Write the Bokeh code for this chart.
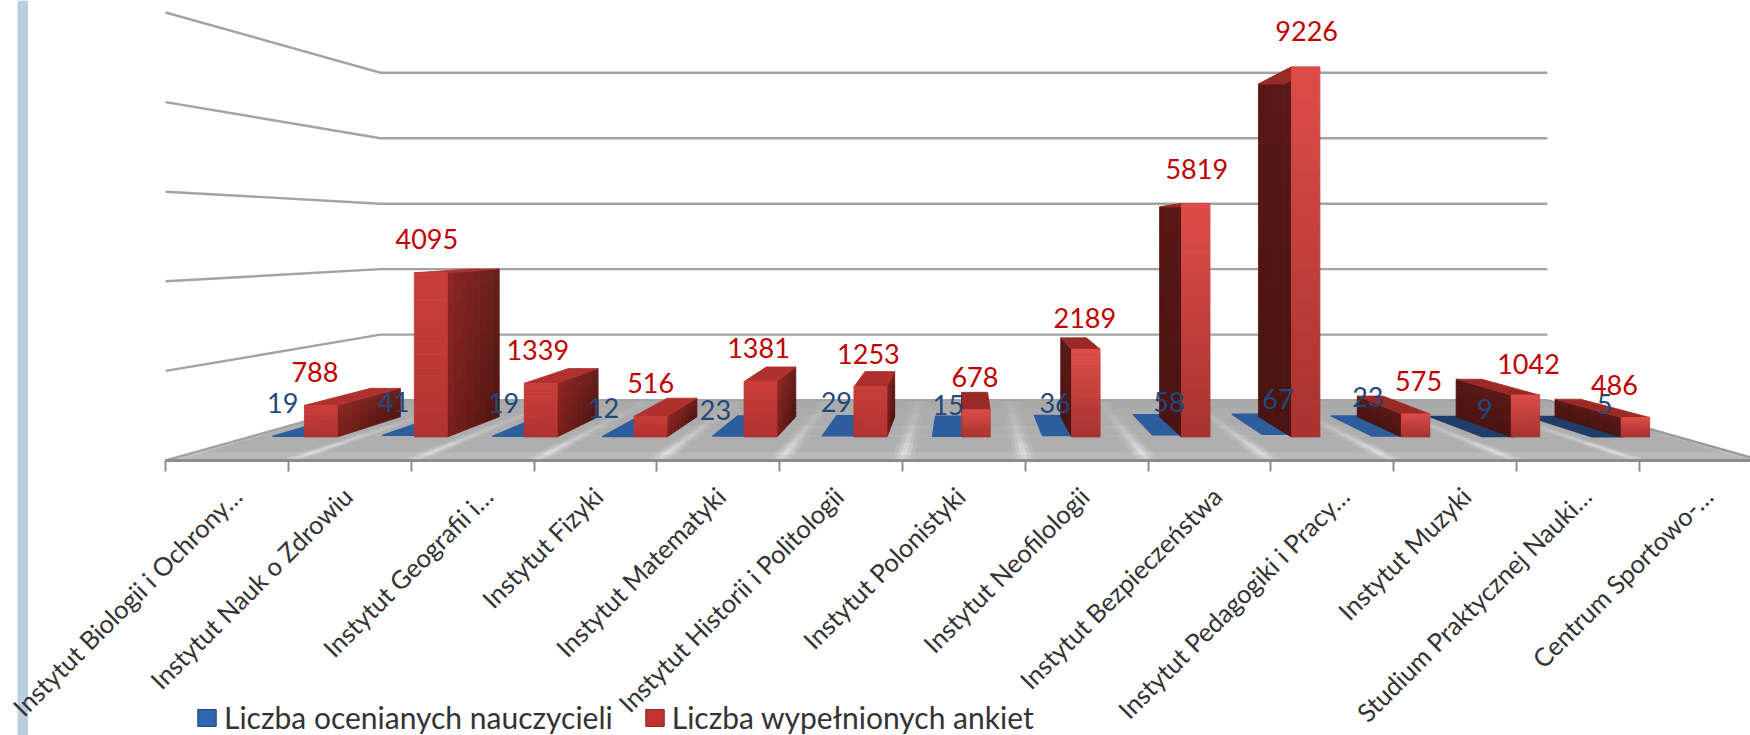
from math import pi
from bokeh.core.properties import value
from bokeh.embed import file_html
from bokeh.resources import INLINE
from bokeh.plotting import figure
from bokeh.models import (BoxAnnotation, FixedTicker, Legend, LegendItem,
                          LinearAxis, Range1d)

# ---- data ----
categories = ["Instytut Biologii i Ochrony…", "Instytut Nauk o Zdrowiu", "Instytut Geografii i…",
              "Instytut Fizyki", "Instytut Matematyki", "Instytut Historii i Politologii",
              "Instytut Polonistyki", "Instytut Neofilologii", "Instytut Bezpieczeństwa",
              "Instytut Pedagogiki i Pracy…", "Instytut Muzyki", "Studium Praktycznej Nauki…",
              "Centrum Sportowo-…"]
teachers = [19, 41, 19, 12, 23, 29, 15, 36, 58, 67, 23, 9, 5]
surveys = [788, 4095, 1339, 516, 1381, 1253, 678, 2189, 5819, 9226, 575, 1042, 486]
grid_values = [2000, 4000, 6000, 8000, 10000]
series_names = ["Liczba ocenianych nauczycieli", "Liczba wypełnionych ankiet"]

# ---- camera and layout (style, not data) ----
N = len(categories)
VP_U, VP_V = N / 2, 5007.0
S_WALL, S_FRONT, S_BACK = 0.731, 0.895, 0.805
BAR_W = 0.285
BAR_W_LEFT, BAR_W_RIGHT, RIGHT_SHIFT = 0.30, 0.26, -0.02

# label nudges in screen pixels
red_dx = [-6, -4, -3, 0, -2, -2, -1, -1, 1, 1, 3, 3, -21]
red_dy = [0, -1, 0, 0, -1, 0, 0, 2, -2, -3, 0, 2, 1]
blue_dx = [-6, -5, -5, -15, -13, -2, 0, -3, 1, 0, -20, -13, -3]
blue_dy = [0, 0, 0, 5, 7, -1, 2, 0, 0, -2, -6, 5, 0]
blue_tone = ["#2c5e9e"] * 11 + ["#1e3d68", "#1e3d68"]
label_shift = [.08, -.02, .125, .02, .02, -.02, -.03, -.02, .06, .10, .09, .07, .06]


def proj(u, v, s):
    return VP_U + (u - VP_U) * s, VP_V + (v - VP_V) * s


def rgb(h):
    return [int(h[i:i + 2], 16) for i in (1, 3, 5)]


def mix(a, b, t):
    return "#%02x%02x%02x" % tuple(round(x + (y - x) * t) for x, y in zip(rgb(a), rgb(b)))


class Faces:
    def __init__(self):
        self.xs, self.ys, self.c = [], [], []

    def grid(self, a, b, c, d, ca, cb, cc, cd, nx=1, ny=1):
        """a,b = first edge; c,d = opposite edge, colours at the corners"""
        def pt(t, w):
            top = (a[0] + (b[0] - a[0]) * t, a[1] + (b[1] - a[1]) * t)
            bot = (c[0] + (d[0] - c[0]) * t, c[1] + (d[1] - c[1]) * t)
            return top[0] + (bot[0] - top[0]) * w, top[1] + (bot[1] - top[1]) * w
        for i in range(nx):
            for j in range(ny):
                t0, t1, w0, w1 = i / nx, (i + 1) / nx, j / ny, (j + 1) / ny
                q = [pt(t0, w0), pt(t1, w0), pt(t1, w1), pt(t0, w1)]
                self.xs.append([p[0] for p in q])
                self.ys.append([p[1] for p in q])
                tm, wm = (t0 + t1) / 2, (w0 + w1) / 2
                self.c.append(mix(mix(ca, cb, tm), mix(cc, cd, tm), wm))


p = figure(width=1750, height=735, output_backend="svg", toolbar_location=None,
           x_range=Range1d(-1.345, 12.906), y_range=Range1d(-6138, 10268),
           x_axis_type=None, y_axis_type=None, min_border_left=0, min_border_right=0,
           min_border_top=0, min_border_bottom=0, outline_line_color=None,
           background_fill_color="white", border_fill_color="white")
p.grid.visible = False

# left slide stripe
p.add_layout(BoxAnnotation(left=17, right=27.5, top=0, bottom=735, left_units="screen",
                           right_units="screen", top_units="screen", bottom_units="screen",
                           fill_color="#bccfe0", fill_alpha=1, line_color=None, level="underlay"))

# floor
floor = Faces()
floor.grid(proj(0, 0, S_WALL), proj(N, 0, S_WALL), proj(0, 0, 0.965), proj(N, 0, 0.965),
           "#aaaaaa", "#aaaaaa", "#b0b0b0", "#b0b0b0", 1, 6)
floor.grid(proj(0, 0, 0.965), proj(N, 0, 0.965), proj(0, 0, 1), proj(N, 0, 1),
           "#bcbcbc", "#bcbcbc", "#b6b6b6", "#b6b6b6")
p.patches(floor.xs, floor.ys, fill_color=floor.c, line_color=floor.c, line_width=0.6)

# floor light streaks, running from each tick towards the vanishing point
sx, sy, sa = [], [], []
steps = [(1.0, 0.975), (0.975, 0.95), (0.95, 0.92), (0.92, 0.88), (0.88, 0.84), (0.84, 0.79), (0.79, 0.735)]
alphas = [0.22, 0.34, 0.30, 0.20, 0.14, 0.09, 0.05]
for i in range(0, N + 1):
    for k, (s0, s1) in enumerate(steps):
        for half, fade in ((.09, .45), (.055, .7), (.025, 1.0)):
            q = [proj(i - half, 0, s0), proj(i + half, 0, s0), proj(i + half, 0, s1), proj(i - half, 0, s1)]
            sx.append([a[0] for a in q])
            sy.append([a[1] for a in q])
            sa.append(alphas[k] * fade)
p.patches(sx, sy, fill_color="#f6f6f6", fill_alpha=sa, line_color=None)

# floor edges and grid lines
edge_x, edge_y = [], []
for v in [0] + grid_values:
    a, b, c = proj(0, v, 1), proj(0, v, S_WALL), proj(N, v, S_WALL)
    edge_x.append([a[0], b[0], c[0]])
    edge_y.append([a[1], b[1], c[1]])
p.multi_line(edge_x, edge_y, line_color="#a3a3a3", line_width=2.4, line_join="miter")
b0, b1 = proj(N, 0, 1), proj(N, 0, S_WALL)
p.line([b0[0], b1[0]], [b0[1], b1[1]], line_color="#9a9a9a", line_width=2.4)

# bars
bars = Faces()
blue_x, blue_y, blue_c = [], [], []
red_lab_x, red_lab_y, blue_lab_x, blue_lab_y = [], [], [], []
for i in range(N):
    c = i + 0.5
    # blue: a very low slab, mostly its top face
    u0, u1, v = c - BAR_W, c, teachers[i]
    q = [proj(u0, v, S_FRONT), proj(u1, v, S_FRONT), proj(u1, v, S_BACK), proj(u0, v, S_BACK)]
    blue_x.append([a[0] for a in q])
    blue_y.append([a[1] for a in q])
    blue_c.append(blue_tone[i])
    lx, ly = proj(u0 + BAR_W / 2, v, S_FRONT)
    blue_lab_x.append(lx)
    blue_lab_y.append(ly)

for i in range(N):
    c = i + 0.5
    left_of_camera = c + BAR_W < VP_U
    u0 = c if left_of_camera else c + RIGHT_SHIFT
    u1 = u0 + (BAR_W_LEFT if left_of_camera else BAR_W_RIGHT)
    v = surveys[i]
    f_tl, f_tr = proj(u0, v, S_FRONT), proj(u1, v, S_FRONT)
    f_bl, f_br = proj(u0, 0, S_FRONT), proj(u1, 0, S_FRONT)
    b_tl, b_tr = proj(u0, v, S_BACK), proj(u1, v, S_BACK)
    b_bl, b_br = proj(u0, 0, S_BACK), proj(u1, 0, S_BACK)
    if left_of_camera:
        bars.grid(f_tr, b_tr, f_br, b_br, "#8e2623", "#68201c", "#7a1f1b", "#4e1411", 8, 12)
        bars.grid(f_tl, f_tr, b_tl, b_tr, "#c23a36", "#b0302c", "#b0302c", "#9a2825", 1, 1)
        front_top, front_bot = "#cb3e3a", "#b23330"
    else:
        bars.grid(f_tl, b_tl, f_bl, b_bl, "#5a1917", "#571716", "#4a1311", "#4a1311", 4, 10)
        bars.grid(f_tl, f_tr, b_tl, b_tr, "#a02a27", "#c23835", "#7a1f1c", "#8a2522", 1, 1)
        front_top, front_bot = "#de4d48", "#a83230"
    bars.grid(f_tl, f_tr, f_bl, f_br, front_top, front_top, front_bot, front_bot, 1, 24)
    lx, ly = proj((u0 + u1) / 2, v, S_FRONT)
    red_lab_x.append(lx)
    red_lab_y.append(ly)

p.patches(blue_x, blue_y, fill_color=blue_c, line_color=blue_c, line_width=1.5, line_join="round")
p.patches(bars.xs, bars.ys, fill_color=bars.c, line_color=bars.c, line_width=0.8, line_join="round")

# value labels
p.text(x=blue_lab_x, y=blue_lab_y, text=[str(t) for t in teachers], x_offset=blue_dx,
       y_offset=[d - 33 for d in blue_dy], text_align="center", text_baseline="middle",
       text_color="#1f497d", text_font=value("Lato"), text_font_size="27px")
p.text(x=red_lab_x, y=red_lab_y, text=[str(t) for t in surveys], x_offset=red_dx,
       y_offset=[d - 33 for d in red_dy], text_align="center", text_baseline="middle",
       text_color="#c00000", text_font=value("Lato"), text_font_size="27px")

# category axis
tick_at = [i + 0.5 + label_shift[i] for i in range(N)]
ticker = FixedTicker(ticks=tick_at, minor_ticks=list(range(N + 1)))
axis = LinearAxis(ticker=ticker, fixed_location=0, bounds=(0, N), axis_line_color="#8c8c8c",
                  axis_line_width=3,
                  major_tick_line_color=None, major_tick_in=0, major_tick_out=0,
                  minor_tick_line_color="#8c8c8c", minor_tick_line_width=2,
                  minor_tick_in=0, minor_tick_out=11,
                  major_label_overrides={tick_at[i]: categories[i] for i in range(N)},
                  major_label_orientation=pi / 4, major_label_standoff=20,
                  major_label_text_font="Lato", major_label_text_font_size="25.5px",
                  major_label_text_color="#333333")
p.add_layout(axis, "below")

# legend
red_key = p.patches([[0, 0]], [[-1, -1]], fill_color="#c0342f", line_color="#7a1f1b")
blue_key = p.patches([[0, 0]], [[-1, -1]], fill_color="#2f66ad", line_color="#1e3d68")
legend = Legend(items=[LegendItem(label=series_names[0], renderers=[blue_key]),
                       LegendItem(label=series_names[1], renderers=[red_key])],
                orientation="horizontal", location=(195, 0), margin=0, padding=0, spacing=30,
                glyph_width=23, glyph_height=21, label_standoff=6, background_fill_alpha=0,
                border_line_color=None, label_text_font="Lato", label_text_font_size="30px",
                label_text_color="#333333")
p.add_layout(legend, "center")

open("out.html", "w").write(file_html(p, INLINE))
